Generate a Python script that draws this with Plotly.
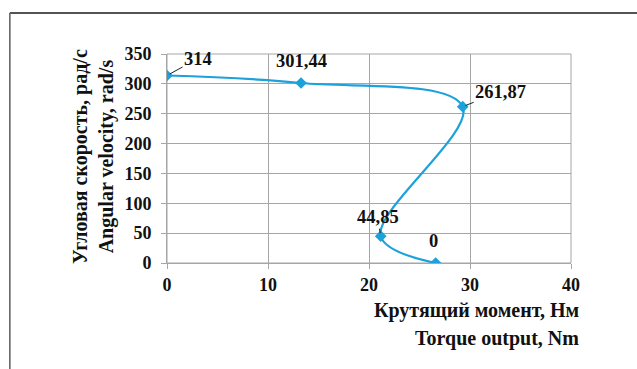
import plotly.graph_objects as go

# Torque vs angular velocity characteristic
torque = [0, 13.27, 29.28, 21.16, 26.6]          # Nm
omega = [314, 301.44, 261.87, 44.85, 0]          # rad/s

x_ticks = [0, 10, 20, 30, 40]
y_ticks = [0, 50, 100, 150, 200, 250, 300, 350]

line_color = "#1ba1db"
grid_color = "#a6a6a6"
font_family = "Liberation Serif"


def fmt(v):
    s = f"{v:.2f}".rstrip("0").rstrip(".")
    return s.replace(".", ",")


fig = go.Figure()
fig.add_trace(go.Scatter(
    x=torque, y=omega, mode="lines+markers",
    line=dict(color=line_color, width=2.2, shape="spline", smoothing=1.0),
    marker=dict(symbol="diamond", size=9, color=line_color),
    hoverinfo="skip", showlegend=False,
))

# value labels: (x offset, y offset, leader line?)
label_pos = [(31, -17, True), (0, -22, False), (38, -15, True), (-3, -19, True), (-2, -22, False)]
for xv, yv, (ax, ay, leader) in zip(torque, omega, label_pos):
    if leader:
        fig.add_annotation(x=xv, y=yv, text=f"<b>{fmt(yv)}</b>", showarrow=True,
                           ax=ax, ay=ay, arrowhead=0, arrowwidth=1, arrowcolor="#222",
                           standoff=3,
                           font=dict(family=font_family, size=18.5, color="#111"))
    else:
        fig.add_annotation(x=xv, y=yv, text=f"<b>{fmt(yv)}</b>", showarrow=False,
                           xshift=ax, yshift=-ay,
                           font=dict(family=font_family, size=18.5, color="#111"))

# axis titles
fig.add_annotation(xref="paper", yref="paper", x=-0.182, y=0.51, textangle=-90,
                   xanchor="center", yanchor="middle",
                   text="<b>Угловая скорость, рад/с<br>Angular velocity, rad/s</b>",
                   showarrow=False, font=dict(family=font_family, size=20, color="#111"))
fig.add_annotation(xref="paper", yref="paper", x=1.025, y=-0.225,
                   xanchor="right", yanchor="middle",
                   text="<b>Крутящий момент, Нм</b>", showarrow=False,
                   font=dict(family=font_family, size=20, color="#111"))
fig.add_annotation(xref="paper", yref="paper", x=1.025, y=-0.36,
                   xanchor="right", yanchor="middle",
                   text="<b>Torque output, Nm</b>", showarrow=False,
                   font=dict(family=font_family, size=20, color="#111"))

# outer frame
fig.add_shape(type="line", xref="paper", yref="paper", x0=-0.389, y0=1.196, x1=1.3, y1=1.196,
              line=dict(color="#1a1a1a", width=1.6))
fig.add_shape(type="line", xref="paper", yref="paper", x0=-0.389, y0=1.196, x1=-0.389, y1=-0.6,
              line=dict(color="#666", width=1.6))

axis_common = dict(
    showgrid=True, gridcolor=grid_color, gridwidth=1,
    showline=True, linecolor=grid_color, linewidth=1,
    ticks="outside", ticklen=5, tickcolor=grid_color,
    tickfont=dict(family=font_family, size=18, color="#111"),
    zeroline=False, mirror=False,
)

fig.update_xaxes(range=[0, 40], tickvals=x_ticks, ticktext=[f"<b>{t}</b>" for t in x_ticks],
                 **axis_common)
fig.update_yaxes(range=[0, 350], tickvals=y_ticks, ticktext=[f"<b>{t}</b>" for t in y_ticks],
                 ticklabelstandoff=6, **axis_common)

# right and top border of plot area
fig.add_shape(type="rect", xref="paper", yref="paper", x0=0, y0=0, x1=1, y1=1,
              line=dict(color=grid_color, width=1), layer="below")

fig.update_layout(
    width=637, height=369,
    margin=dict(l=167, r=66, t=54, b=106),
    paper_bgcolor="white", plot_bgcolor="white",
)

fig.write_html("out.html")
